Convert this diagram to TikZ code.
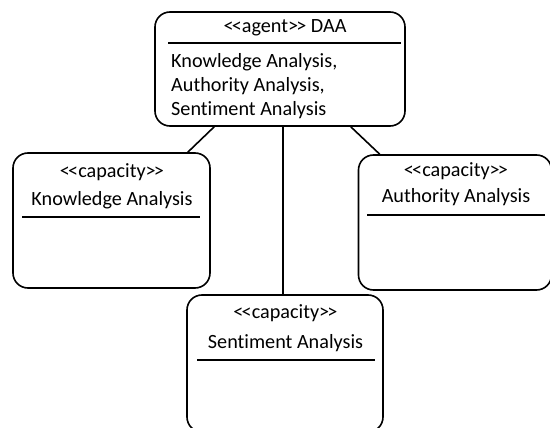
\documentclass[tikz,border=0pt]{standalone}
\usepackage{fontspec}
\setmainfont{Carlito}[Ligatures={NoCommon,NoRequired,NoContextual}]
\usetikzlibrary{calc}
\newcommand{\stl}{<\kern-1.8pt<}
\newcommand{\str}{>\kern-1.8pt>}
\begin{document}
\begin{tikzpicture}[x=1pt,y=-1pt,
  box/.style={draw, line width=1.6pt, rounded corners=15pt, inner sep=0pt},
  sep/.style={line width=2.8pt},
  link/.style={line width=1.6pt},
  lbl/.style={font=\fontsize{20.2}{24}\selectfont, inner sep=0pt, anchor=base},
  lbll/.style={lbl, anchor=base west}]
  \useasboundingbox (0,0) rectangle (550,428);
  \begin{scope}
  \clip (0,0) rectangle (550,428);
  % agent
  \node[box, minimum width=250pt, minimum height=114pt] (daa) at (280,69) {};
  \node[lbl] (daat) at (285,33) {\stl agent\str{} DAA};
  \coordinate (daas1) at (168,43);
  \coordinate (daas2) at (401,43);
  \draw[sep] (daas1) -- (daas2);
  \node[lbll] (daa1) at (171,68) {Knowledge Analysis,};
  \node[lbll] (daa2) at (171,92) {Authority Analysis,};
  \node[lbll] (daa3) at (171,116) {Sentiment Analysis};
  % knowledge capacity
  \node[box, minimum width=197pt, minimum height=135pt] (kn) at (111.5,220.5) {};
  \node[lbl] (knst) at (112,178) {\stl capacity\str};
  \node[lbl] (knt) at (112,205) {Knowledge Analysis};
  \coordinate (kns1) at (22,217);
  \coordinate (kns2) at (200,217);
  \draw[sep] (kns1) -- (kns2);
  % authority capacity
  \node[box, minimum width=193pt, minimum height=135pt] (au) at (455,222.5) {};
  \node[lbl] (aust) at (456,177) {\stl capacity\str};
  \node[lbl] (aut) at (456,203) {Authority Analysis};
  \coordinate (aus1) at (367,215);
  \coordinate (aus2) at (545,215);
  \draw[sep] (aus1) -- (aus2);
  % sentiment capacity
  \node[box, minimum width=196pt, minimum height=137pt] (se) at (285,363.5) {};
  \node[lbl] (sest) at (285.5,318) {\stl capacity\str};
  \node[lbl] (set) at (285.5,348) {Sentiment Analysis};
  \coordinate (ses1) at (197,360);
  \coordinate (ses2) at (375,360);
  \draw[sep] (ses1) -- (ses2);
  % links
  \draw[link] ($(daa.south west)+(60,0)$) -- ($(kn.north east)+(-23,0)$);
  \draw[link] ($(daa.south)+(3,0)$) -- ($(se.north)+(-2,0)$);
  \draw[link] ($(daa.south east)+(-55,0)$) -- ($(au.north west)+(22,0)$);
  \end{scope}
\end{tikzpicture}
\end{document}
